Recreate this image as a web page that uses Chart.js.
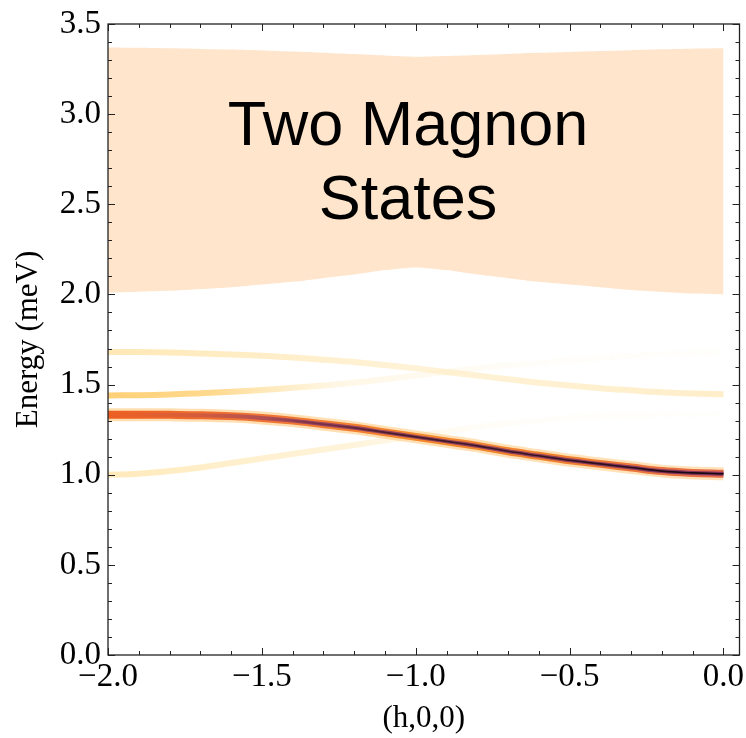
<!DOCTYPE html>
<html>
<head>
<meta charset="utf-8">
<script src="https://cdn.jsdelivr.net/npm/chart.js@4"></script>
<style>
  body { margin: 0; background: #fff; }
</style>
</head>
<body>
<canvas id="chart" width="746" height="738"></canvas>
<script>
// momentum transfer along (h,0,0)
const hValues = [-2.0, -1.9, -1.8, -1.7, -1.6, -1.5, -1.4, -1.3, -1.2, -1.1, -1.0,
                 -0.9, -0.8, -0.7, -0.6, -0.5, -0.4, -0.3, -0.2, -0.1, 0.0];

// two magnon continuum edges (meV)
const bandLow  = [2.01, 2.015, 2.02, 2.03, 2.04, 2.055, 2.07, 2.09, 2.11, 2.135, 2.15,
                  2.135, 2.11, 2.09, 2.07, 2.055, 2.04, 2.025, 2.015, 2.005, 2.0];
const bandHigh = [3.37, 3.368, 3.365, 3.362, 3.358, 3.353, 3.347, 3.34, 3.333, 3.325, 3.318,
                  3.322, 3.328, 3.334, 3.34, 3.345, 3.35, 3.355, 3.36, 3.363, 3.365];

// strong magnon branch
const mainBranch = [1.333, 1.333, 1.332, 1.33, 1.325, 1.315, 1.30, 1.28, 1.26, 1.235, 1.21,
                    1.185, 1.16, 1.13, 1.105, 1.08, 1.06, 1.04, 1.02, 1.01, 1.005];
// weak branches
const lowBranch  = [1.0, 1.005, 1.02, 1.04, 1.065, 1.09, 1.115, 1.14, 1.165, 1.19, 1.215,
                    1.24, 1.265, 1.285, 1.30, 1.315, 1.325, 1.33, 1.333, 1.333, 1.333];
const highBranch = [1.68, 1.68, 1.678, 1.673, 1.667, 1.66, 1.65, 1.638, 1.625, 1.608, 1.59,
                    1.57, 1.55, 1.53, 1.51, 1.495, 1.48, 1.468, 1.457, 1.45, 1.447];
const midBranch  = [1.44, 1.441, 1.445, 1.452, 1.46, 1.47, 1.482, 1.495, 1.51, 1.53, 1.55,
                    1.57, 1.59, 1.606, 1.62, 1.635, 1.648, 1.66, 1.67, 1.676, 1.68];

const xTicks = [-2.0, -1.5, -1.0, -0.5, 0.0];
const yTicks = [0.0, 0.5, 1.0, 1.5, 2.0, 2.5, 3.0, 3.5];

const serif = '"Liberation Serif", "DejaVu Serif", serif';

const pts = (ys) => hValues.map((h, i) => ({ x: h, y: ys[i] }));

const fmt = (v) => (v < 0 ? '\u2212' : '') + Math.abs(v).toFixed(1);

// horizontal colour ramp along h
const hGradient = (stops) => (context) => {
  const { ctx, chartArea, scales } = context.chart;
  if (!chartArea) return stops[0][1];
  const x0 = scales.x.getPixelForValue(-2);
  const x1 = scales.x.getPixelForValue(0);
  const g = ctx.createLinearGradient(x0, 0, x1, 0);
  stops.forEach(([h, c]) => g.addColorStop((h + 2) / 2, c));
  return g;
};

const line = (ys, width, color) => ({
  data: pts(ys),
  borderWidth: width,
  borderColor: color,
  fill: false,
  tension: 0.4,
  borderCapStyle: 'butt',
});

// frame with inward major and minor ticks on all sides
const framePlugin = {
  id: 'frame',
  afterDraw(chart) {
    const { ctx, chartArea: a, scales: { x, y } } = chart;
    ctx.save();
    ctx.strokeStyle = '#222';
    ctx.lineWidth = 1.3;
    ctx.strokeRect(a.left, a.top, a.right - a.left, a.bottom - a.top);
    ctx.lineWidth = 1;
    ctx.beginPath();
    for (let i = -20; i <= 0; i++) {
      const px = Math.round(x.getPixelForValue(i / 10)) + 0.5;
      const len = i % 5 === 0 ? 7 : 4;
      ctx.moveTo(px, a.bottom); ctx.lineTo(px, a.bottom - len);
      ctx.moveTo(px, a.top); ctx.lineTo(px, a.top + len);
    }
    for (let i = 0; i <= 35; i++) {
      const py = Math.round(y.getPixelForValue(i / 10)) + 0.5;
      const len = i % 5 === 0 ? 7 : 4;
      ctx.moveTo(a.left, py); ctx.lineTo(a.left + len, py);
      ctx.moveTo(a.right, py); ctx.lineTo(a.right - len, py);
    }
    ctx.stroke();
    ctx.restore();
  },
};

const labelPlugin = {
  id: 'bandLabel',
  afterDatasetsDraw(chart) {
    const { ctx, scales: { x, y } } = chart;
    ctx.save();
    ctx.fillStyle = '#000';
    ctx.font = '63px "Liberation Sans", Arial, sans-serif';
    ctx.textAlign = 'center';
    ctx.textBaseline = 'alphabetic';
    const cx = x.getPixelForValue(-1.025);
    ctx.fillText('Two Magnon', cx, y.getPixelForValue(2.83));
    ctx.fillText('States', cx, y.getPixelForValue(2.42));
    ctx.restore();
  },
};

// Chart.js paints the first dataset last, so the topmost layer comes first
const chart = new Chart(document.getElementById('chart'), {
  type: 'line',
  data: {
    datasets: [
      line(mainBranch, 1.6, hGradient([[-2, 'rgba(25,5,20,0)'], [-1.5, 'rgba(25,5,20,0)'],
                                      [-1.1, 'rgba(25,5,20,0.6)'], [-0.4, 'rgba(20,5,15,0.8)'], [0, 'rgba(15,5,10,0.95)']])),
      line(mainBranch, 4, hGradient([[-2, 'rgba(125,45,105,0)'], [-1.75, 'rgba(125,45,105,0.2)'],
                                    [-1.35, 'rgba(118,42,110,0.7)'], [0, 'rgba(105,35,100,0.8)']])),
      line(mainBranch, 8, hGradient([[-2, '#EE5F22'], [-1.5, '#EF7436'], [-1, '#F5892C'], [-0.5, '#F08030'], [0, '#E46A4A']])),
      line(mainBranch, 13, hGradient([[-2, 'rgba(255,195,110,0.55)'], [0, 'rgba(255,200,120,0.5)']])),
      line(highBranch, 6, hGradient([[-2, 'rgba(255,222,150,0.7)'], [-1, 'rgba(255,230,175,0.5)'], [0, 'rgba(255,226,165,0.6)']])),
      line(midBranch, 6, hGradient([[-2, 'rgba(255,200,95,0.85)'], [-1.65, 'rgba(255,205,105,0.75)'],
                                   [-1.25, 'rgba(255,228,170,0.3)'], [-0.6, 'rgba(255,238,200,0.1)'], [0, 'rgba(255,240,205,0.06)']])),
      line(lowBranch, 6, hGradient([[-2, 'rgba(255,222,150,0.65)'], [-1.2, 'rgba(255,228,165,0.4)'],
                                   [-0.8, 'rgba(255,238,195,0.12)'], [0, 'rgba(255,240,205,0.04)']])),
      { data: pts(bandLow), borderWidth: 0, borderColor: 'rgba(0,0,0,0)', fill: false, tension: 0.2 },
      { data: pts(bandHigh), borderWidth: 0, borderColor: 'rgba(0,0,0,0)', fill: '-1',
        backgroundColor: '#FEE5CC', tension: 0.2 },
    ],
  },
  options: {
    responsive: false,
    animation: false,
    layout: { padding: { top: 24, right: 6, left: 0, bottom: 0 } },
    plugins: { legend: { display: false }, tooltip: { enabled: false } },
    elements: { point: { radius: 0 } },
    scales: {
      x: {
        type: 'linear',
        min: -2,
        max: 0.052,
        grid: { display: false, drawTicks: false },
        border: { display: false },
        afterBuildTicks: (axis) => { axis.ticks = xTicks.map((v) => ({ value: v })); },
        afterFit: (axis) => { axis.height = 83; axis.paddingLeft = 0; axis.paddingRight = 0; },
        ticks: { callback: fmt, color: '#000', font: { family: serif, size: 33 }, padding: 3, maxRotation: 0 },
        title: { display: true, text: '(h,0,0)', color: '#000', font: { family: serif, size: 31 },
                 padding: { top: 0, bottom: 1 } },
      },
      y: {
        type: 'linear',
        min: 0,
        max: 3.5,
        grid: { display: false, drawTicks: false },
        border: { display: false },
        afterBuildTicks: (axis) => { axis.ticks = yTicks.map((v) => ({ value: v })); },
        afterFit: (axis) => { axis.width = 108; axis.paddingTop = 0; axis.paddingBottom = 0; },
        ticks: { callback: fmt, color: '#000', font: { family: serif, size: 33 }, padding: 7 },
        title: { display: true, text: 'Energy (meV)', color: '#000', font: { family: serif, size: 31 },
                 padding: { top: 10, bottom: 0 } },
      },
    },
  },
  plugins: [framePlugin, labelPlugin],
});
// second pass so the gradients see the final chart area
chart.update();
</script>
</body>
</html>
